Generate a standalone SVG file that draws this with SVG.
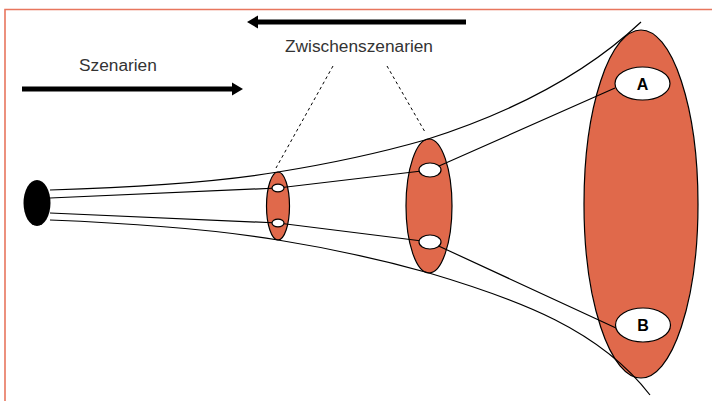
<svg xmlns="http://www.w3.org/2000/svg" width="712" height="401" viewBox="0 0 712 401">
  <style>
    .frame { fill: none; stroke: #E8765E; stroke-width: 1.6; }
    .zone { fill: #E0694B; stroke: #000; stroke-width: 1.2; }
    .hole { fill: #fff; stroke: #000; stroke-width: 1.2; }
    .path { fill: none; stroke: #000; stroke-width: 1.2; }
    .guide { fill: none; stroke: #000; stroke-width: 1; stroke-dasharray: 3 3; }
    .label { font-family: "Liberation Sans", Arial, sans-serif; font-size: 17.3px; fill: #333; }
    .tag { font-family: "Liberation Sans", Arial, sans-serif; font-size: 16px; font-weight: bold; fill: #000; }
  </style>
  <rect width="712" height="401" fill="#fff"/>
  <!-- outer frame (right and bottom edges run past the canvas) -->
  <path class="frame" d="M5,401 V9.5 H712"/>

  <!-- direction arrows -->
  <g id="arrow-back">
    <rect x="256" y="19.5" width="210" height="5" fill="#000"/>
    <polygon points="247,22 258,15.5 258,28.5" fill="#000"/>
  </g>
  <g id="arrow-forward">
    <rect x="22" y="86.5" width="212" height="5" fill="#000"/>
    <polygon points="243,89 232,82.5 232,95.5" fill="#000"/>
  </g>

  <g id="label-szenarien"><text class="label" x="79" y="71">Szenarien</text></g>
  <g id="label-zwischen"><text class="label" x="359" y="52" text-anchor="middle">Zwischenszenarien</text></g>

  <!-- big outcome ellipse -->
  <g id="end-space">
    <ellipse class="zone" cx="641" cy="204" rx="57" ry="174"/>
  </g>
  <g id="stage-2">
    <ellipse class="zone" cx="429" cy="206" rx="23" ry="67"/>
  </g>
  <g id="stage-1">
    <ellipse class="zone" cx="278" cy="206" rx="11.5" ry="34"/>
  </g>
  <g id="start">
    <ellipse cx="37" cy="203" rx="13.5" ry="23" fill="#000"/>
  </g>

  <!-- connectors -->
  <g id="connectors">
    <!-- funnel boundary -->
    <path class="path" d="M50,190 C150,187 230,180 278,172 C340,162 390,150 425,140 C520,110 590,70 641,22"/>
    <path class="path" d="M50,220 C150,224 230,232 278,240 C340,250 390,262 429,273 C520,300 600,330 650,395"/>
    <!-- scenario paths -->
    <path class="path" d="M50,198 L278,188 L430,170 L615,88"/>
    <path class="path" d="M50,213 L278,223 L430,242 L616,328"/>
    <!-- callout guides -->
    <path class="guide" d="M333,66 L276,168"/>
    <path class="guide" d="M387,66 L425,132"/>
  </g>

  <g id="hole-1a"><ellipse class="hole" cx="278" cy="188" rx="6" ry="3.8"/></g>
  <g id="hole-1b"><ellipse class="hole" cx="278" cy="223" rx="6" ry="3.8"/></g>
  <g id="hole-2a"><ellipse class="hole" cx="430" cy="170" rx="11" ry="7"/></g>
  <g id="hole-2b"><ellipse class="hole" cx="430" cy="242" rx="11" ry="7"/></g>

  <g id="node-a">
    <ellipse class="hole" cx="642.5" cy="83.5" rx="27.5" ry="16.5"/>
    <text class="tag" x="642.5" y="89.5" text-anchor="middle">A</text>
  </g>
  <g id="node-b">
    <ellipse class="hole" cx="643" cy="325" rx="27.5" ry="17"/>
    <text class="tag" x="643" y="331" text-anchor="middle">B</text>
  </g>
</svg>
